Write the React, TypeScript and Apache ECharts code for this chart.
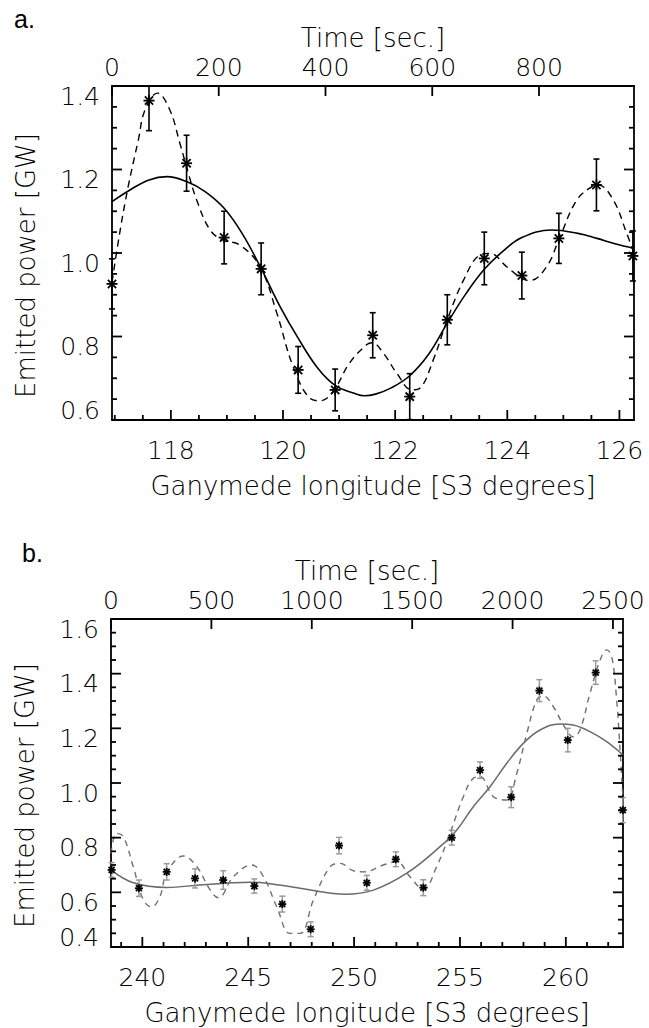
import React, { useEffect, useRef } from 'react';
import * as echarts from 'echarts';

// ---------- Panel a ----------
const lonA = [116.95, 117.61, 118.28, 118.95, 119.61, 120.27, 120.93, 121.6, 122.26, 122.93, 123.59, 124.26, 124.92, 125.59, 126.24];
const powA = [0.926, 1.365, 1.215, 1.037, 0.962, 0.72, 0.672, 0.803, 0.656, 0.84, 0.987, 0.946, 1.035, 1.163, 0.993];
const errA = [0.06, 0.072, 0.067, 0.063, 0.062, 0.056, 0.05, 0.054, 0.055, 0.06, 0.063, 0.056, 0.06, 0.062, 0.06];

const fitLonA = [116.95, 117.27, 117.61, 117.93, 118.28, 118.61, 118.95, 119.27, 119.61, 119.95, 120.27, 120.61, 120.93, 121.27, 121.45, 121.65, 121.93, 122.26, 122.6, 122.93, 123.26, 123.59, 123.93, 124.26, 124.79, 125.26, 125.6, 125.92, 126.26];
const fitA = [1.123, 1.151, 1.175, 1.183, 1.171, 1.147, 1.107, 1.047, 0.963, 0.871, 0.796, 0.726, 0.683, 0.664, 0.658, 0.662, 0.677, 0.706, 0.758, 0.832, 0.902, 0.961, 1.005, 1.037, 1.055, 1.047, 1.035, 1.022, 1.011];

const dashLonA = [116.95, 117.09, 117.24, 117.42, 117.54, 117.76, 117.98, 118.16, 118.31, 118.46, 118.7, 118.93, 119.23, 119.59, 119.89, 120.18, 120.48, 120.66, 120.89, 121.19, 121.49, 121.59, 121.79, 122.03, 122.3, 122.44, 122.68, 122.93, 123.22, 123.51, 123.69, 123.99, 124.26, 124.4, 124.7, 124.94, 125.24, 125.51, 125.62, 125.89, 126.13, 126.26];
const dashA = [0.93, 1.05, 1.16, 1.271, 1.343, 1.383, 1.343, 1.263, 1.192, 1.127, 1.055, 1.031, 1.019, 0.967, 0.856, 0.728, 0.652, 0.646, 0.668, 0.737, 0.78, 0.785, 0.76, 0.712, 0.672, 0.676, 0.744, 0.84, 0.935, 0.995, 0.999, 0.967, 0.939, 0.934, 0.967, 1.039, 1.127, 1.159, 1.163, 1.127, 1.047, 0.999];

const lonTicksA = [118, 120, 122, 124, 126];
const lonMinorA = [117, 117.5, 118.5, 119, 119.5, 120.5, 121, 121.5, 122.5, 123, 123.5, 124.5, 125, 125.5];
const timeTicksA = [0, 200, 400, 600, 800];
const powTicksA = [0.6, 0.8, 1.0, 1.2, 1.4];
const powMinorA = [0.65, 0.7, 0.75, 0.85, 0.9, 0.95, 1.05, 1.1, 1.15, 1.25, 1.3, 1.35];

// ---------- Panel b ----------
const lonB = [238.55, 239.84, 241.15, 242.49, 243.82, 245.29, 246.61, 247.95, 249.29, 250.6, 251.97, 253.27, 254.61, 255.95, 257.42, 258.75, 260.09, 261.41, 262.69];
const powB = [0.682, 0.615, 0.675, 0.651, 0.645, 0.623, 0.557, 0.465, 0.771, 0.635, 0.721, 0.617, 0.8, 1.047, 0.948, 1.338, 1.157, 1.404, 0.901];
const errB = [0.027, 0.03, 0.03, 0.035, 0.034, 0.026, 0.029, 0.027, 0.03, 0.027, 0.027, 0.029, 0.027, 0.03, 0.038, 0.04, 0.043, 0.043, 0.046];

const fitLonB = [238.52, 239.57, 241.15, 242.72, 244.3, 245.09, 245.87, 247.45, 249.02, 249.6, 250.91, 252.49, 254.06, 254.85, 255.63, 256.42, 257.21, 257.99, 258.78, 259.72, 260.35, 261.14, 261.93, 262.7];
const fitB = [0.682, 0.635, 0.618, 0.627, 0.635, 0.637, 0.633, 0.615, 0.596, 0.593, 0.608, 0.67, 0.767, 0.828, 0.913, 0.986, 1.072, 1.145, 1.194, 1.216, 1.212, 1.188, 1.151, 1.102];

const dashLonB = [238.52, 238.79, 239.1, 239.57, 240.05, 240.44, 240.83, 241.15, 241.94, 242.57, 243.2, 243.59, 244.3, 245.17, 245.72, 246.35, 246.98, 247.45, 248.08, 248.87, 249.34, 249.97, 250.48, 251.38, 252.01, 252.64, 253.27, 253.9, 254.53, 255.16, 255.63, 255.95, 256.58, 257.21, 257.68, 258.16, 258.63, 258.94, 259.41, 259.89, 260.35, 260.67, 261.14, 261.62, 261.93, 262.17, 262.4, 262.56, 262.7];
const dashB = [0.743, 0.816, 0.804, 0.694, 0.572, 0.547, 0.584, 0.67, 0.733, 0.694, 0.609, 0.58, 0.657, 0.7, 0.657, 0.547, 0.45, 0.45, 0.572, 0.694, 0.706, 0.679, 0.675, 0.7, 0.712, 0.657, 0.611, 0.694, 0.816, 0.95, 1.017, 1.023, 0.95, 0.938, 1.035, 1.182, 1.304, 1.318, 1.279, 1.212, 1.169, 1.194, 1.328, 1.45, 1.487, 1.462, 1.304, 1.121, 0.938];

const lonTicksB = [240, 245, 250, 255, 260];
const lonMinorB = [239, 241, 242, 243, 244, 246, 247, 248, 249, 251, 252, 253, 254, 256, 257, 258, 259, 261, 262];
const timeTicksB = [0, 500, 1000, 1500, 2000, 2500];
const powTicksB = [0.4, 0.6, 0.8, 1.0, 1.2, 1.4, 1.6];
const powMinorB = [0.45, 0.5, 0.55, 0.65, 0.7, 0.75, 0.85, 0.9, 0.95, 1.05, 1.1, 1.15, 1.25, 1.3, 1.35, 1.45, 1.5, 1.55];

// axis ranges
const lonRangeA = [116.95, 126.26];
const lonRangeB = [238.52, 262.7];
const timeMaxA = 978;
const timeMaxB = 2550;
const powRangeA = [0.6, 1.4];
const powRangeB = [0.4, 1.6];

const FONT = "'DejaVu Sans', sans-serif";
const TXT = { color: '#000', fontFamily: FONT, fontSize: 25, fontWeight: 200, lineHeight: 20 };
const TITLE = { ...TXT, fontSize: 26 };
const LINE = () => ({ show: true, lineStyle: { color: '#000', width: 1.8 } });
const plain = (v: number) => String(v);
const MAJOR = 10;
const MINOR = 5;

const zip = (xs: number[], ys: number[]) => xs.map((x, i) => [x, ys[i]]);

function errStarSeries(gi: number, lons: number[], vals: number[], errs: number[], o: any) {
  return {
    type: 'custom',
    xAxisIndex: gi * 2,
    yAxisIndex: gi * 2,
    z: 6,
    clip: false,
    data: lons.map((x, i) => [x, vals[i], errs[i]]),
    renderItem: (params: any, api: any) => {
      const x = api.value(0), y = api.value(1), e = api.value(2);
      const c = api.coord([x, y]);
      const t = api.coord([x, y + e]);
      const b = api.coord([x, y - e]);
      const cs = params.coordSys;
      const top = Math.max(t[1], cs.y);
      const bot = Math.min(b[1], cs.y + cs.height);
      const es = { stroke: o.errColor, lineWidth: o.errWidth, fill: null };
      const ss = { stroke: '#000', lineWidth: o.starWidth, fill: null };
      const children: any[] = [
        { type: 'line', shape: { x1: c[0], y1: top, x2: c[0], y2: bot }, style: es },
      ];
      if (t[1] >= cs.y) children.push({ type: 'line', shape: { x1: c[0] - o.cap, y1: t[1], x2: c[0] + o.cap, y2: t[1] }, style: es });
      if (b[1] <= cs.y + cs.height) children.push({ type: 'line', shape: { x1: c[0] - o.cap, y1: b[1], x2: c[0] + o.cap, y2: b[1] }, style: es });
      const s = o.star, d = o.star * 0.75;
      children.push(
        { type: 'line', shape: { x1: c[0], y1: c[1] - s, x2: c[0], y2: c[1] + s }, style: ss },
        { type: 'line', shape: { x1: c[0] - s, y1: c[1], x2: c[0] + s, y2: c[1] }, style: ss },
        { type: 'line', shape: { x1: c[0] - d, y1: c[1] - d, x2: c[0] + d, y2: c[1] + d }, style: ss },
        { type: 'line', shape: { x1: c[0] - d, y1: c[1] + d, x2: c[0] + d, y2: c[1] - d }, style: ss },
      );
      return { type: 'group', children };
    },
  };
}

// inward tick marks, one data item per tick: [x value, y value, length]
function tickSeries(xIdx: number, yIdx: number, items: number[][], side: string) {
  return {
    type: 'custom', xAxisIndex: xIdx, yAxisIndex: yIdx, z: 7, clip: false,
    data: items,
    renderItem: (params: any, api: any) => {
      const cs = params.coordSys;
      const len = api.value(2);
      const p = api.coord([api.value(0), api.value(1)]);
      const st = { stroke: '#000', lineWidth: 1.8, fill: null };
      const bottom = cs.y + cs.height, right = cs.x + cs.width;
      const children: any[] = [];
      if (side === 'bottom') {
        children.push({ type: 'line', shape: { x1: p[0], y1: bottom, x2: p[0], y2: bottom - len }, style: st });
      } else if (side === 'top') {
        children.push({ type: 'line', shape: { x1: p[0], y1: cs.y, x2: p[0], y2: cs.y + len }, style: st });
      } else {
        children.push({ type: 'line', shape: { x1: cs.x, y1: p[1], x2: cs.x + len, y2: p[1] }, style: st });
        children.push({ type: 'line', shape: { x1: right - len, y1: p[1], x2: right, y2: p[1] }, style: st });
      }
      return { type: 'group', children };
    },
  };
}

function panelTicks(gi: number, lonRange: number[], powRange: number[], lonMajor: number[], lonMinor: number[], timeTicks: number[], powMajor: number[], powMinor: number[]) {
  const xi = gi * 2, ti = gi * 2 + 1, yi = gi * 2;
  return [
    tickSeries(xi, yi, [...lonMajor.map((v) => [v, powRange[0], MAJOR]), ...lonMinor.map((v) => [v, powRange[0], MINOR])], 'bottom'),
    tickSeries(ti, yi, timeTicks.map((v) => [v, powRange[1], MAJOR]), 'top'),
    tickSeries(xi, yi, [...powMajor.map((v) => [lonRange[0], v, MAJOR]), ...powMinor.map((v) => [lonRange[0], v, MINOR])], 'lr'),
  ];
}

function xAxes(gi: number, lonRange: number[], lonTicks: number[], timeMax: number, timeTicks: number[]) {
  return [
    {
      type: 'value', gridIndex: gi, position: 'bottom', min: lonRange[0], max: lonRange[1],
      axisLine: LINE(),
      axisTick: { show: false },
      axisLabel: { ...TXT, margin: 20, customValues: lonTicks, formatter: plain },
      splitLine: { show: false },
      name: 'Ganymede longitude [S3 degrees]', nameLocation: 'middle', nameGap: 56,
      nameTextStyle: { ...TITLE },
    },
    {
      type: 'value', gridIndex: gi, position: 'top', min: 0, max: timeMax,
      axisLine: LINE(),
      axisTick: { show: false },
      axisLabel: { ...TXT, margin: 9, customValues: timeTicks, formatter: plain },
      splitLine: { show: false },
      name: 'Time [sec.]', nameLocation: 'middle', nameGap: 38,
      nameTextStyle: { ...TITLE },
    },
  ];
}

function yAxes(gi: number, range: number[]) {
  const common = {
    type: 'value', gridIndex: gi, min: range[0], max: range[1], interval: 0.2,
    axisLine: LINE(),
    axisTick: { show: false },
    splitLine: { show: false },
  };
  return [
    {
      ...common, position: 'left',
      axisLabel: {
        ...TXT, margin: 12, verticalAlign: 'top', verticalAlignMinLabel: 'bottom',
        formatter: (v: number) => v.toFixed(1),
      },
      name: 'Emitted power [GW]', nameLocation: 'middle', nameGap: 76, nameRotate: 90,
      nameTextStyle: { ...TITLE, padding: [0, 25, 0, 0] },
    },
    { ...common, position: 'right', axisLabel: { show: false } },
  ];
}

export default function App() {
  const ref = useRef<HTMLDivElement>(null);
  useEffect(() => {
    if (!ref.current) return;
    const chart = echarts.init(ref.current, null, { renderer: 'svg' });
    const option: any = {
      animation: false,
      backgroundColor: '#fff',
      grid: [
        { left: 112, top: 86, width: 522, height: 334 },
        { left: 111, top: 619, width: 512, height: 328 },
      ],
      xAxis: [
        ...xAxes(0, lonRangeA, lonTicksA, timeMaxA, timeTicksA),
        ...xAxes(1, lonRangeB, lonTicksB, timeMaxB, timeTicksB),
      ],
      yAxis: [...yAxes(0, powRangeA), ...yAxes(1, powRangeB)],
      graphic: [
        { type: 'text', left: 14, top: 6, style: { text: 'a.', fontFamily: "'Liberation Sans', Arial, sans-serif", fontSize: 25, fill: '#000' } },
        { type: 'text', left: 22, top: 540, style: { text: 'b.', fontFamily: "'Liberation Sans', Arial, sans-serif", fontSize: 25, fill: '#000' } },
      ],
      series: [
        ...panelTicks(0, lonRangeA, powRangeA, lonTicksA, lonMinorA, timeTicksA, powTicksA, powMinorA),
        {
          type: 'line', xAxisIndex: 0, yAxisIndex: 0, data: zip(fitLonA, fitA), symbol: 'none', smooth: 0.4,
          lineStyle: { color: '#000', width: 1.6 }, z: 3,
        },
        {
          type: 'line', xAxisIndex: 0, yAxisIndex: 0, data: zip(dashLonA, dashA), symbol: 'none', smooth: 0.4,
          lineStyle: { color: '#000', width: 1.4, type: [7, 5] }, z: 3,
        },
        errStarSeries(0, lonA, powA, errA, { errColor: '#000', errWidth: 1.6, cap: 3, star: 5.5, starWidth: 1.8 }),
        ...panelTicks(1, lonRangeB, powRangeB, lonTicksB, lonMinorB, timeTicksB, powTicksB, powMinorB),
        {
          type: 'line', xAxisIndex: 2, yAxisIndex: 2, data: zip(fitLonB, fitB), symbol: 'none', smooth: 0.4,
          lineStyle: { color: '#6a6a6a', width: 1.5 }, z: 3,
        },
        {
          type: 'line', xAxisIndex: 2, yAxisIndex: 2, data: zip(dashLonB, dashB), symbol: 'none', smooth: 0.4,
          lineStyle: { color: '#707070', width: 1.4, type: [6, 5] }, z: 3,
        },
        errStarSeries(1, lonB, powB, errB, { errColor: '#9a9a9a', errWidth: 1.5, cap: 3, star: 4, starWidth: 1.8 }),
      ],
    };
    chart.setOption(option);
    return () => chart.dispose();
  }, []);
  return <div ref={ref} style={{ position: 'absolute', left: 0, top: 0, width: 649, height: 1028 }} />;
}
